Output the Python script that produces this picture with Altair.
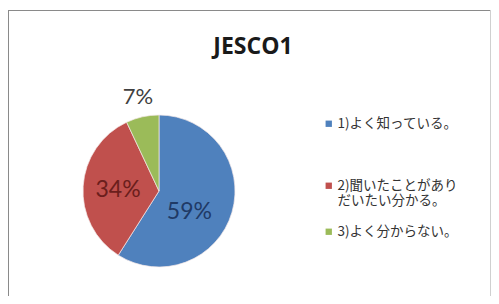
import altair as alt
import pandas as pd

categories = ["1)よく知っている。", "2)聞いたことがあり|だいたい分かる。", "3)よく分からない。"]
values = [59, 34, 7]
pct_labels = ["59%", "34%", "7%"]
slice_colors = ["#4F81BD", "#C0504D", "#9BBB59"]
label_colors = ["#1F3A66", "#6B1E1C", "#404040"]
title_text = "JESCO1"

df = pd.DataFrame({
    "category": categories,
    "value": values,
    "label": pct_labels,
    "idx": list(range(len(categories))),
})

W, H = 483, 288
CX, CY, R = 151, 183, 76

base = alt.Chart(df)

pie = base.mark_arc(outerRadius=R, stroke="#f4e8e8", strokeWidth=0.7).encode(
    theta=alt.Theta("value:Q", stack=True),
    order=alt.Order("idx:Q"),
    color=alt.Color(
        "category:N",
        sort=categories,
        scale=alt.Scale(domain=categories, range=slice_colors),
        legend=alt.Legend(
            title=None,
            orient="none",
            legendX=314,
            legendY=109,
            symbolType="square",
            symbolSize=40,
            symbolStrokeWidth=0,
            labelFont="Noto Sans CJK JP",
            labelFontSize=13.5,
            labelColor="#333333",
            labelExpr="indexof(datum.label, '1)') == 0 ? [datum.label, ' ', ' '] : split(datum.label, '|')",
            labelLimit=220,
            labelOffset=2,
            rowPadding=16,
            symbolOffset=0,
        ),
    ),
    x=alt.value(CX),
    y=alt.value(CY),
)

mid = (
    base.transform_window(cum="sum(value)", sort=[alt.SortField("idx")])
    .transform_calculate(mid="datum.cum - datum.value / 2")
)

text_enc = dict(
    theta=alt.Theta("mid:Q", scale=alt.Scale(domain=[0, 100]), stack=None),
    text="label:N",
    color=alt.Color("label:N", scale=alt.Scale(domain=pct_labels, range=label_colors), legend=None),
    x=alt.value(CX),
    y=alt.value(CY),
)

lbl1 = mid.transform_filter("datum.idx == 0").mark_text(
    radius=40, font="Lato", fontSize=23, dx=-8, dy=10
).encode(**text_enc)

lbl2 = mid.transform_filter("datum.idx == 1").mark_text(
    radius=41, font="Lato", fontSize=23, dy=2
).encode(**text_enc)

lbl3 = mid.transform_filter("datum.idx == 2").mark_text(
    radius=96, font="Lato", fontSize=22
).encode(**text_enc)

title = alt.Chart(pd.DataFrame({"t": [title_text]})).mark_text(
    font="Open Sans", fontSize=23, fontWeight="bold", color="#1a1a1a"
).encode(text="t:N", x=alt.value(245), y=alt.value(39))

frame_df = pd.DataFrame({"a": [0]})
top_rule = alt.Chart(frame_df).mark_rule(color="#8a8a8a", strokeWidth=1).encode(
    x=alt.value(0), x2=alt.value(W), y=alt.value(2.5)
)
left_rule = alt.Chart(frame_df).mark_rule(color="#8a8a8a", strokeWidth=1).encode(
    x=alt.value(0.5), y=alt.value(2), y2=alt.value(H)
)
right_rule = alt.Chart(frame_df).mark_rule(color="#d0d0d0", strokeWidth=1).encode(
    x=alt.value(W - 0.5), y=alt.value(2), y2=alt.value(H)
)

chart = (
    alt.layer(top_rule, left_rule, right_rule, pie, lbl1, lbl2, lbl3, title)
    .resolve_scale(color="independent", theta="independent")
    .properties(
        width=W,
        height=H,
        autosize=alt.AutoSizeParams(type="none"),
        padding={"left": 0, "top": 0, "right": 0, "bottom": 0},
        background="white",
    )
    .configure_view(stroke=None)
)

chart.save("out.html", embed_options={"renderer": "svg", "actions": False})
